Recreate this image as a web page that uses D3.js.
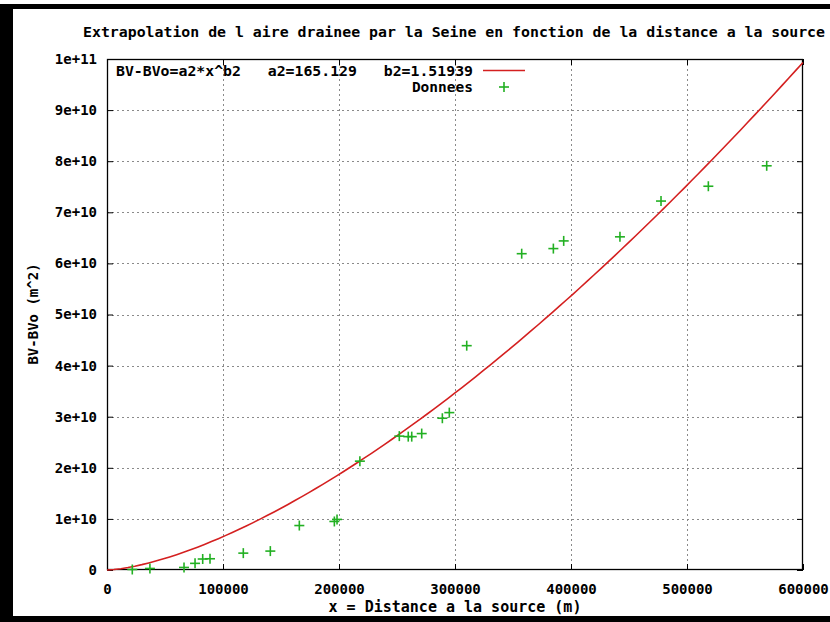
<!DOCTYPE html>
<html><head><meta charset="utf-8">
<script src="https://cdn.jsdelivr.net/npm/d3@7"></script>
<style>body{margin:0;background:#fff}svg{display:block}</style>
</head><body>
<script>
// ---- data ----
const xTickValues = [0, 100000, 200000, 300000, 400000, 500000, 600000];
const xTickLabels = ["0", "100000", "200000", "300000", "400000", "500000", "600000"];
const yTickValues = [0, 1e10, 2e10, 3e10, 4e10, 5e10, 6e10, 7e10, 8e10, 9e10, 1e11];
const yTickLabels = ["0", "1e+10", "2e+10", "3e+10", "4e+10", "5e+10", "6e+10", "7e+10", "8e+10", "9e+10", "1e+11"];
const distance = [21800, 37000, 66400, 75900, 82500, 88800, 117500, 140800, 165800, 196000, 198300,
  218000, 252000, 259700, 262700, 271300, 289100, 295100, 310100, 357500, 384800, 393700,
  442200, 477600, 518400, 568700];
const area = [1e8, 3e8, 5e8, 1.3e9, 2.15e9, 2.2e9, 3.3e9, 3.7e9, 8.7e9, 9.5e9, 9.9e9,
  2.13e10, 2.62e10, 2.61e10, 2.61e10, 2.67e10, 2.97e10, 3.08e10, 4.39e10, 6.19e10, 6.29e10, 6.44e10,
  6.52e10, 7.22e10, 7.51e10, 7.91e10];
const fitA = 165.129, fitB = 1.51939;
const title = "Extrapolation de l aire drainee par la Seine en fonction de la distance a la source";
const xLabel = "x = Distance a la source (m)";
const yLabel = "BV-BVo (m^2)";
const legendFit = "BV-BVo=a2*x^b2   a2=165.129   b2=1.51939";
const legendData = "Donnees";

// ---- layout ----
const W = 830, H = 622;
const L = 107, R = 803, T = 59, B = 570;
const svg = d3.select("body").append("svg").attr("width", W).attr("height", H);
svg.append("rect").attr("width", W).attr("height", H).attr("fill", "#fff");

// black frame (photo border)
svg.append("rect").attr("x", 8).attr("y", 4).attr("width", W - 8).attr("height", 5).attr("fill", "#000");
svg.append("rect").attr("x", 0).attr("y", 4).attr("width", 13).attr("height", H - 4).attr("fill", "#000");
svg.append("rect").attr("x", 0).attr("y", 616).attr("width", W).attr("height", 6).attr("fill", "#000");

const x = d3.scaleLinear().domain([0, 600000]).range([L, R]);
const y = d3.scaleLinear().domain([0, 1e11]).range([B, T]);

const mono = "'DejaVu Sans Mono', 'Liberation Mono', monospace";

// grid
const grid = svg.append("g").attr("stroke", "#8a8a8a").attr("stroke-width", 1).attr("stroke-dasharray", "2,3");
xTickValues.slice(1, -1).forEach(v => {
  grid.append("line").attr("x1", Math.round(x(v)) + 0.5).attr("x2", Math.round(x(v)) + 0.5).attr("y1", T).attr("y2", B);
});
yTickValues.slice(1, -1).forEach(v => {
  grid.append("line").attr("y1", Math.round(y(v)) + 0.5).attr("y2", Math.round(y(v)) + 0.5).attr("x1", L).attr("x2", R);
});

// axes with ticks (inward, mirrored)
const fmtX = d => xTickLabels[xTickValues.indexOf(d)];
const fmtY = d => yTickLabels[yTickValues.indexOf(d)];
const axB = svg.append("g").attr("transform", `translate(0,${B})`)
  .call(d3.axisBottom(x).tickValues(xTickValues).tickFormat(fmtX).tickSizeInner(-6).tickSizeOuter(0).tickPadding(14));
const axT = svg.append("g").attr("transform", `translate(0,${T})`)
  .call(d3.axisTop(x).tickValues(xTickValues).tickFormat("").tickSizeInner(-6).tickSizeOuter(0));
const axL = svg.append("g").attr("transform", `translate(${L},0)`)
  .call(d3.axisLeft(y).tickValues(yTickValues).tickFormat(fmtY).tickSizeInner(-6).tickSizeOuter(0).tickPadding(10));
const axR = svg.append("g").attr("transform", `translate(${R},0)`)
  .call(d3.axisRight(y).tickValues(yTickValues).tickFormat("").tickSizeInner(-6).tickSizeOuter(0));
[axB, axT, axL, axR].forEach(g => {
  g.select(".domain").remove();
  g.selectAll("line").attr("stroke", "#000");
  g.selectAll("text").attr("font-family", mono).attr("font-size", 14).attr("font-weight", "bold").attr("fill", "#000");
});
svg.append("rect").attr("x", L + 0.5).attr("y", T + 0.5).attr("width", R - L - 1).attr("height", B - T - 1)
  .attr("fill", "none").attr("stroke", "#000").attr("stroke-width", 1.3);

// fit curve
const samples = d3.range(0, 101).map(i => 600000 * i / 100);
const line = d3.line().x(d => x(d)).y(d => y(fitA * Math.pow(d, fitB)));
svg.append("path").datum(samples).attr("d", line).attr("fill", "none").attr("stroke", "#d42020").attr("stroke-width", 1.6);

// data points
const green = "#22b022";
const plus = (g, cx, cy) => {
  g.append("line").attr("x1", cx - 5).attr("x2", cx + 5).attr("y1", cy).attr("y2", cy);
  g.append("line").attr("x1", cx).attr("x2", cx).attr("y1", cy - 5).attr("y2", cy + 5);
};
const pts = svg.append("g").attr("stroke", green).attr("stroke-width", 1.6);
distance.forEach((d, i) => plus(pts, x(d), y(area[i])));

// legend
svg.append("text").attr("x", 116).attr("y", 76)
  .attr("font-family", mono).attr("font-size", 14.5).attr("font-weight", "bold").attr("xml:space", "preserve")
  .attr("textLength", 357).attr("lengthAdjust", "spacingAndGlyphs")
  .style("white-space", "pre").text(legendFit);
svg.append("line").attr("x1", 483).attr("x2", 525).attr("y1", 70.5).attr("y2", 70.5).attr("stroke", "#d42020").attr("stroke-width", 1.6);
svg.append("text").attr("x", 473).attr("y", 92).attr("text-anchor", "end")
  .attr("font-family", mono).attr("font-size", 14.5).attr("font-weight", "bold").text(legendData);
plus(svg.append("g").attr("stroke", green).attr("stroke-width", 1.6), 504, 87);

// title and axis labels
svg.append("text").attr("x", 83).attr("y", 37).attr("font-family", mono).attr("font-size", 14.5)
  .attr("font-weight", "bold").attr("fill", "#000")
  .attr("textLength", 742).attr("lengthAdjust", "spacingAndGlyphs").text(title);
svg.append("text").attr("x", 455).attr("y", 612).attr("text-anchor", "middle").attr("font-family", mono)
  .attr("font-size", 15).attr("font-weight", "bold").text(xLabel);
svg.append("text").attr("transform", "translate(38,314) rotate(-90)").attr("text-anchor", "middle")
  .attr("font-family", mono).attr("font-size", 14).attr("font-weight", "bold").text(yLabel);
</script>
</body></html>
